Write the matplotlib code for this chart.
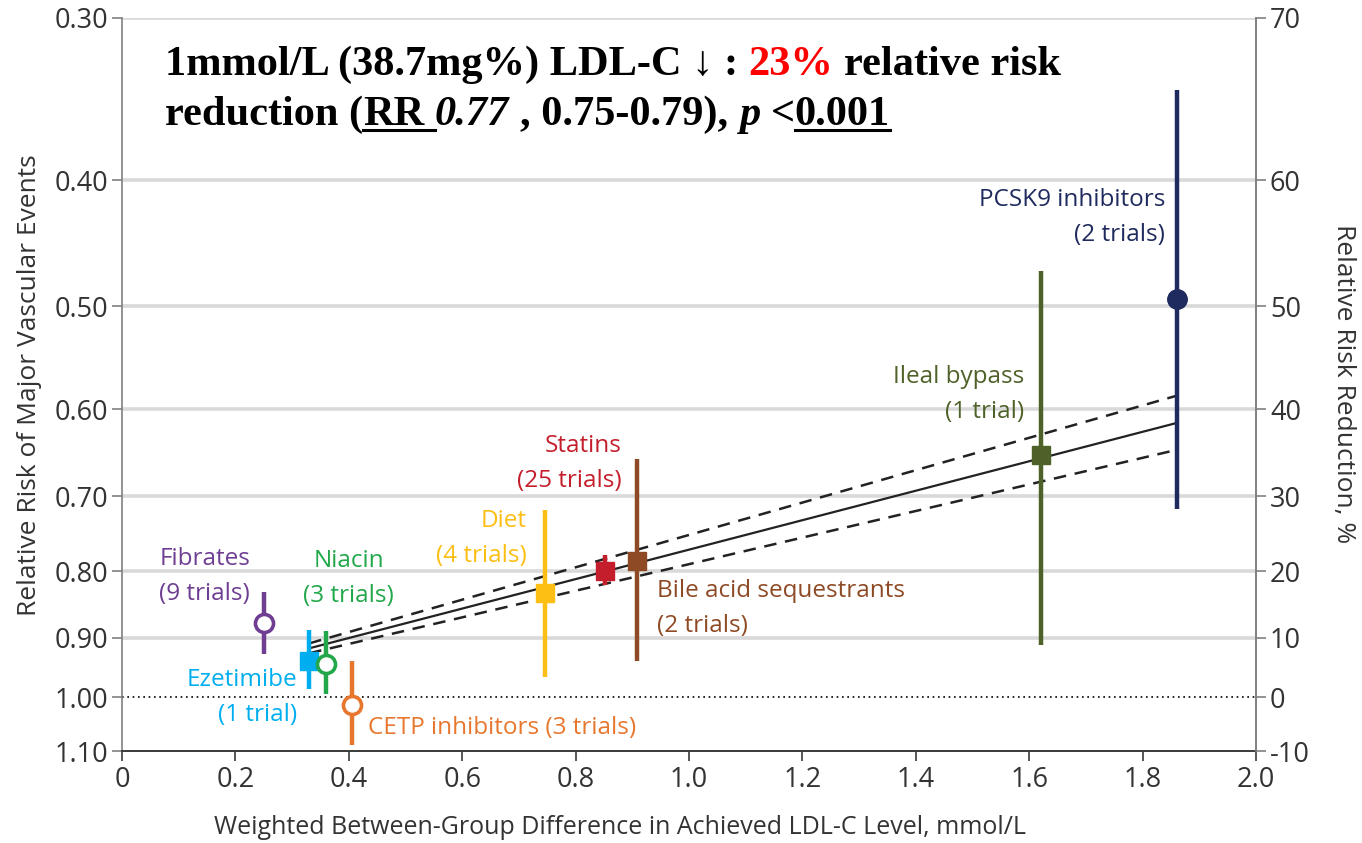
import matplotlib
matplotlib.use('Agg')
import matplotlib.pyplot as plt
from matplotlib.lines import Line2D
from matplotlib.ticker import FixedLocator, NullLocator

# data (relative risk per drug class, with 95% CI)
drugs = ['Fibrates', 'Ezetimibe', 'Niacin', 'CETP inhibitors', 'Diet',
         'Statins', 'Bile acid sequestrants', 'Ileal bypass', 'PCSK9 inhibitors']
trials = [9, 1, 3, 3, 4, 25, 2, 1, 2]
ldl_diff = [0.25, 0.33, 0.36, 0.405, 0.746, 0.852, 0.908, 1.62, 1.86]
rr = [0.876, 0.937, 0.943, 1.014, 0.831, 0.799, 0.786, 0.651, 0.494]
rr_lo = [0.830, 0.887, 0.890, 0.938, 0.717, 0.777, 0.656, 0.470, 0.341]
rr_hi = [0.927, 0.986, 0.995, 1.088, 0.965, 0.820, 0.938, 0.911, 0.716]

# meta-regression line (RR 0.77 per mmol/L, 95% CI 0.75-0.79) end points
fit_x = [0.33, 1.86]
fit_rr = [0.917, 0.615]
fit_lo = [0.909, 0.586]
fit_hi = [0.925, 0.645]

rr_ticks = [0.30, 0.40, 0.50, 0.60, 0.70, 0.80, 0.90, 1.00, 1.10]
rr_labels = ['0.30', '0.40', '0.50', '0.60', '0.70', '0.80', '0.90', '1.00', '1.10']
rrr_labels = ['70', '60', '50', '40', '30', '20', '10', '0', '-10']
x_ticks = [0, 0.2, 0.4, 0.6, 0.8, 1.0, 1.2, 1.4, 1.6, 1.8, 2.0]
x_labels = ['0', '0.2', '0.4', '0.6', '0.8', '1.0', '1.2', '1.4', '1.6', '1.8', '2.0']

# styling per drug
colors = ['#6F3E93', '#00AEEF', '#22A84A', '#E8772E', '#FDBF14',
          '#C41E2C', '#8E4A24', '#4E6128', '#1F2A5E']
markers = ['o', 's', 'o', 'o', 's', 's', 's', 's', 'o']
open_marker = [True, False, True, True, False, False, False, False, False]
# label anchor (x, rr), alignment
label_pos = [(0.146, 0.807, 'center'), (0.309, 1.000, 'right'), (0.400, 0.810, 'center'),
             (0.434, 1.056, 'left'), (0.714, 0.755, 'right'), (0.882, 0.661, 'right'),
             (0.944, 0.854, 'left'), (1.591, 0.585, 'right'), (1.840, 0.427, 'right')]

W, H = 1362, 843
sans = ['Open Sans', 'DejaVu Sans']
serif = ['Liberation Serif', 'DejaVu Serif']
grey_txt = '#333333'

fig = plt.figure(figsize=(W / 100, H / 100), dpi=100)
ax = fig.add_axes([122 / W, 1 - 751 / H, 1134 / W, 733 / H])

ax.set_yscale('log')
ax.set_ylim(1.10, 0.30)
ax.set_xlim(0, 2.0)

# gridlines
for t in rr_ticks:
    if t == 1.00:
        ax.axhline(t, color='black', lw=1.2, ls=(0, (1, 2.2)), zorder=1)
    elif t < 1.05:
        ax.axhline(t, color='#D9D9D9', lw=2.6, zorder=0)

# fit lines
ax.plot(fit_x, fit_rr, color='#222222', lw=1.6, zorder=2)
ax.plot(fit_x, fit_lo, color='#222222', lw=1.8, ls=(0, (5, 3.5)), zorder=2)
ax.plot(fit_x, fit_hi, color='#222222', lw=1.8, ls=(0, (5, 3.5)), zorder=2)

for i in range(len(drugs)):
    c = colors[i]
    ax.vlines(ldl_diff[i], rr_lo[i], rr_hi[i], color=c, lw=3.2, zorder=3)
    if open_marker[i]:
        ax.plot(ldl_diff[i], rr[i], marker='o', ms=13, mfc='white', mec=c, mew=2.6, zorder=4)
    elif markers[i] == 'o':
        ax.plot(ldl_diff[i], rr[i], marker='o', ms=14, mfc=c, mec=c, zorder=4)
    else:
        ax.plot(ldl_diff[i], rr[i], marker='s', ms=13.5, mfc=c, mec=c, zorder=4)

    lx, ly, ha = label_pos[i]
    n = trials[i]
    tr = '(%d trial%s)' % (n, 's' if n > 1 else '')
    if drugs[i] == 'CETP inhibitors':
        txt = drugs[i] + ' ' + tr
    else:
        txt = drugs[i] + '\n' + tr
    ax.text(lx, ly, txt, color=c, ha=ha, va='center', multialignment=ha,
            fontsize=17.5, family=sans, linespacing=1.62, zorder=5)

# axes styling
ax.yaxis.set_major_locator(FixedLocator(rr_ticks))
ax.yaxis.set_minor_locator(NullLocator())
ax.set_yticklabels(rr_labels)
ax.set_xticks(x_ticks)
ax.set_xticklabels(x_labels)
ax.spines['top'].set_visible(False)
for s in ['left', 'right']:
    ax.spines[s].set_color('#808080')
    ax.spines[s].set_linewidth(1.2)
ax.spines['bottom'].set_color('#3A3A3A')
ax.spines['bottom'].set_linewidth(1.4)
ax.tick_params(axis='y', length=7, width=1.2, color='#808080', labelsize=19.5,
               labelcolor=grey_txt, pad=3)
ax.tick_params(axis='x', length=7, width=1.2, color='#3A3A3A', labelsize=19.5,
               labelcolor=grey_txt, pad=4)
for lab in ax.get_xticklabels() + ax.get_yticklabels():
    lab.set_family(sans)

ax2 = ax.twinx()
ax2.set_yscale('log')
ax2.set_ylim(ax.get_ylim())
ax2.yaxis.set_major_locator(FixedLocator(rr_ticks))
ax2.yaxis.set_minor_locator(NullLocator())
ax2.set_yticklabels(rrr_labels)
for s in ['top', 'left', 'bottom']:
    ax2.spines[s].set_visible(False)
ax2.spines['right'].set_color('#808080')
ax2.spines['right'].set_linewidth(1.2)
ax2.tick_params(axis='y', length=7, width=1.2, color='#808080', labelsize=19.5,
                labelcolor=grey_txt, pad=3)
for lab in ax2.get_yticklabels():
    lab.set_family(sans)

fig.text(30 / W, 1 - 385 / H, 'Relative Risk of Major Vascular Events', rotation=90,
         ha='center', va='center', fontsize=19, family=sans, color=grey_txt)
fig.text(1343 / W, 1 - 384 / H, 'Relative Risk Reduction, %', rotation=270,
         ha='center', va='center', fontsize=19, family=sans, color=grey_txt)
fig.text(620 / W, 1 - 828 / H, 'Weighted Between-Group Difference in Achieved LDL-C Level, mmol/L',
         ha='center', va='center', fontsize=18, family=sans, color=grey_txt)

# headline with mixed styles
renderer = fig.canvas.get_renderer()
title_size = 30.5


def text_width(s, style):
    t = fig.text(0, 0, s, fontsize=title_size, family=serif, weight='bold', style=style)
    w = t.get_window_extent(renderer).width
    t.remove()
    return w


space_w = text_width('x x', 'normal') - text_width('xx', 'normal')


def run_line(x, base, pieces):
    for s, color, style, ul in pieces:
        lead = len(s) - len(s.lstrip(' '))
        trail = len(s) - len(s.rstrip(' '))
        x += lead * space_w
        core = s.strip(' ')
        t = fig.text(x / W, 1 - base / H, core, color=color, fontsize=title_size,
                     family=serif, weight='bold', style=style, ha='left', va='baseline')
        w = t.get_window_extent(renderer).width
        end = x + w + trail * space_w
        if ul:
            fig.add_artist(Line2D([x / W, end / W], [1 - (base + 5) / H] * 2,
                                  transform=fig.transFigure, color='black', lw=2.2))
        x = end


run_line(165, 75, [('1mmol/L (38.7mg%) LDL-C \u2193 : ', 'black', 'normal', False),
                   ('23%', '#FF0000', 'normal', False),
                   (' relative risk', 'black', 'normal', False)])
run_line(165, 125, [('reduction (', 'black', 'normal', False),
                    ('RR ', 'black', 'normal', True),
                    ('0.77', 'black', 'italic', False),
                    (' , 0.75-0.79), ', 'black', 'normal', False),
                    ('p', 'black', 'italic', False),
                    (' <', 'black', 'normal', False),
                    ('0.001', 'black', 'normal', True)])

fig.savefig('out.png', dpi=100, facecolor='white')
